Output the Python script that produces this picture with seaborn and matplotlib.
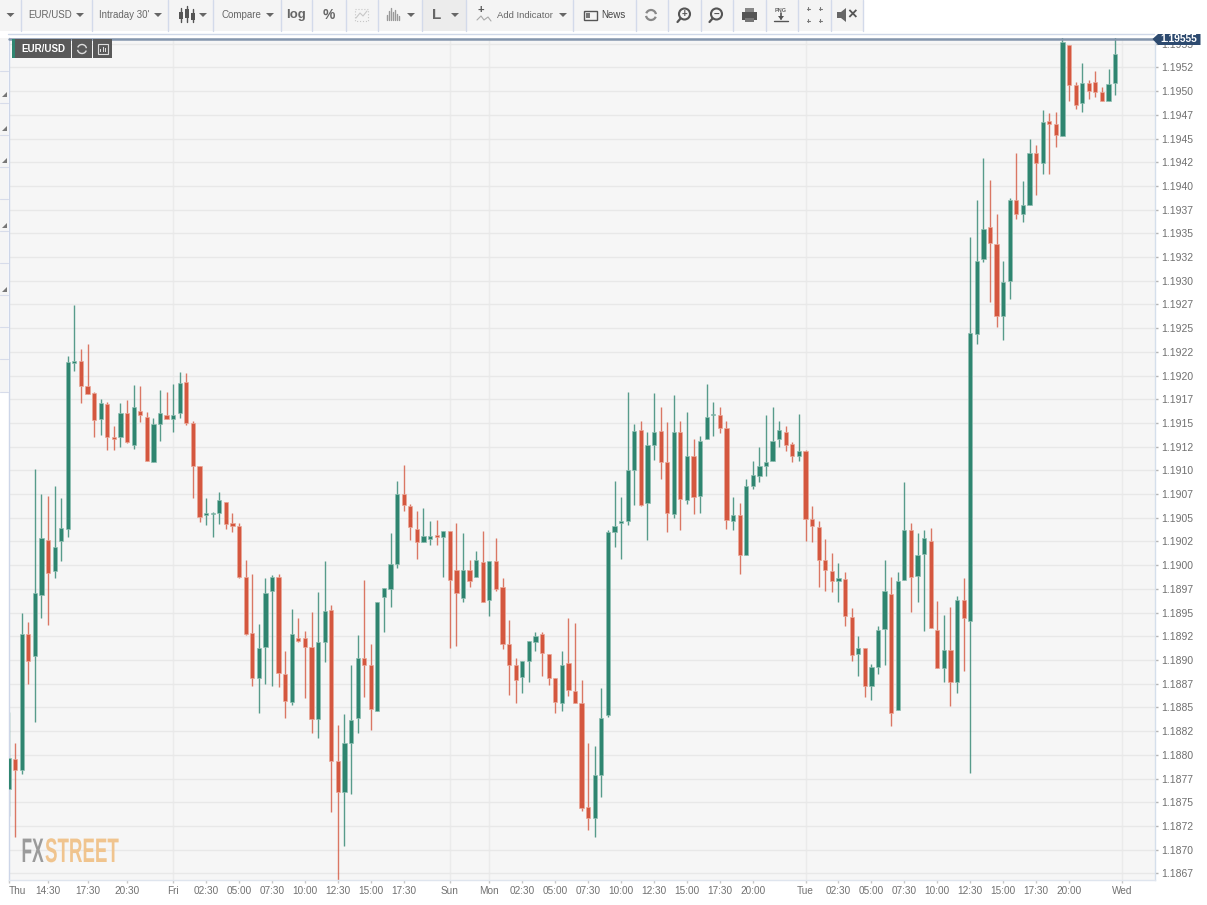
import numpy as np
import pandas as pd
import matplotlib
matplotlib.use("Agg")
import matplotlib.pyplot as plt
import matplotlib.patheffects as pe
from matplotlib.patches import Rectangle, Polygon, Circle, Arc
from matplotlib.transforms import Affine2D
import seaborn as sns

# ---- chart values, in 1e-5 of a EUR/USD price unit ----
opens = [118764,118796,118784,118927,118904,118969,119027,118994,119025,119038,
119213,119215,119189,119182,119154,119170,119135,119135,119160,119127,
119163,119156,119109,119149,119158,119154,119160,119193,119150,119105,
119053,119054,119055,119067,119044,119041,118988,118928,118881,118914,
118973,118988,118885,118856,118923,118923,118914,118838,118919,118953,
118794,118761,118813,118839,118902,118895,118846,118966,118975,119001,
119075,119062,119038,119024,119028,119032,119030,119036,118995,118965,
118995,118988,119003,118963,119004,118977,118917,118895,118882,118899,
118919,118927,118906,118881,118855,118897,118867,118855,118745,118733,
118779,118842,119035,119044,119047,119100,119143,119066,119127,119142,
119109,119054,119140,119069,119115,119073,119133,119158,119158,119145,
119047,119053,119011,119083,119094,119105,119110,119133,119141,119128,
119115,119120,119049,119040,119005,118994,118983,118985,118945,118906,
118913,118873,118893,118933,118970,118847,118984,119037,118989,119012,
119025,118932,118892,118911,118877,118963,118941,119244,119323,119357,
119339,119263,119300,119385,119370,119380,119435,119424,119468,119465,
119453,119549,119506,119487,119509,119510,119499,119490,119509]
closes = [118797,118784,118927,118899,118971,119029,118992,119019,119039,119214,
119215,119189,119181,119153,119171,119135,119133,119160,119130,119167,
119158,119110,119149,119160,119154,119158,119192,119150,119105,119051,
119055,119055,119069,119043,119041,118988,118927,118881,118913,118971,
118988,118886,118857,118927,118920,118914,118838,118919,118952,118794,
118761,118812,118837,118902,118895,118848,118961,118976,119001,119075,
119064,119040,119024,119031,119031,119030,119036,118984,118971,118995,
118983,119005,118961,119004,118975,118917,118895,118879,118899,118920,
118925,118907,118881,118856,118895,118868,118855,118744,118733,118779,
118839,119035,119041,119047,119100,119142,119063,119127,119141,119109,
119055,119140,119070,119115,119072,119131,119156,119159,119145,119048,
119053,119011,119083,119095,119105,119109,119131,119143,119127,119115,
119120,119049,119041,119006,118995,118983,118986,118946,118905,118913,
118873,118893,118932,118973,118844,118983,119037,118988,119011,119029,
118934,118892,118911,118877,118963,118944,119245,119321,119355,119340,
119263,119299,119385,119370,119380,119435,119424,119467,119465,119454,
119552,119506,119485,119509,119500,119499,119490,119507,119539]
highs = [118845,118812,118950,118940,119101,119075,119073,119083,119071,119221,
119274,119228,119233,119183,119175,119172,119147,119171,119174,119190,
119189,119162,119155,119185,119183,119191,119204,119203,119152,119105,
119071,119056,119077,119067,119055,119045,119005,118991,118938,118987,
118990,118991,118909,118954,118944,118931,118951,118972,119004,118958,
118831,118843,118895,118926,118984,118917,118961,118976,119034,119089,
119106,119065,119057,119060,119047,119048,119036,119036,119044,119034,
119006,119015,119036,119004,119029,118987,118942,118902,118899,118920,
118930,118930,118906,118881,118909,118944,118939,118879,118812,118809,
118871,119037,119089,119072,119183,119149,119152,119140,119182,119167,
119151,119180,119152,119162,119133,119136,119191,119172,119167,119152,
119072,119066,119091,119110,119125,119158,119167,119152,119147,119130,
119159,119122,119062,119047,119028,119013,119002,118993,118955,118925,
118913,118896,118936,119005,118988,118993,119088,119044,119034,119037,
119039,118962,118947,118956,118968,118986,119346,119385,119429,119406,
119370,119321,119387,119435,119405,119449,119443,119480,119477,119478,
119557,119549,119510,119530,119512,119521,119504,119523,119558]
lows = [118735,118713,118780,118875,118835,118944,118937,118987,119004,119030,
119205,119171,119181,119135,119137,119121,119121,119125,119129,119123,
119151,119110,119109,119131,119154,119141,119155,119148,119071,119046,
119042,119030,119043,119038,119035,118986,118926,118873,118844,118875,
118873,118872,118839,118853,118919,118860,118823,118818,118898,118740,
118668,118704,118759,118823,118861,118826,118846,118930,118956,118997,
119057,119027,119007,119024,119021,119021,118988,118913,118915,118961,
118977,118988,118961,118946,118973,118912,118863,118855,118865,118877,
118909,118883,118874,118844,118846,118862,118855,118741,118721,118713,
118756,118840,119019,119007,119042,119063,119062,119027,119111,119091,
119035,119050,119037,119065,119054,119055,119133,119136,119139,119038,
119037,118991,119011,119080,119088,119094,119110,119125,119120,119109,
119110,119025,119024,118977,118973,118972,118961,118936,118899,118883,
118861,118858,118885,118895,118830,118847,118984,118951,118961,118931,
118934,118892,118877,118851,118865,118888,118781,119233,119320,119278,
119251,119238,119281,119365,119362,119380,119390,119413,119413,119441,
119453,119490,119481,119478,119492,119494,119490,119490,119496]

time_ticks = [0,6,12,18,25,30,35,40,45,50,55,60,67,73,78,83,88,93,98,103,108,113,121,126,131,136,141,146,151,156,161,169]
time_labels = ["Thu","14:30","17:30","20:30","Fri","02:30","05:00","07:30","10:00","12:30","15:00","17:30",
               "Sun","Mon","02:30","05:00","07:30","10:00","12:30","15:00","17:30","20:00",
               "Tue","02:30","05:00","07:30","10:00","12:30","15:00","17:30","20:00","Wed"]
day_ticks = [25,67,73,121,169]
last_price = 1.19555
GREEN, RED = "#2f8570", "#d4573f"
GREEN_EDGE, RED_EDGE = "#8fbfb2", "#eba898"

sns.set_theme(style="white", rc={"font.family": ["Liberation Sans", "DejaVu Sans"]})
W, H = 1207, 905
fig = plt.figure(figsize=(W/100, H/100), dpi=100, facecolor="white")
L, R, T, B = 8.5, 1154.5, 38, 880
ax = fig.add_axes([L/W, 1-B/H, (R-L)/W, (B-T)/H], facecolor="#f6f6f6")

df = pd.DataFrame({"i": np.arange(len(opens)), "o": opens, "c": closes, "h": highs, "l": lows})
df[["o", "c", "h", "l"]] = df[["o", "c", "h", "l"]] / 1e5
df["bottom"] = df[["o", "c"]].min(axis=1)
df["height"] = (df["o"] - df["c"]).abs()
df["up"] = df["c"] >= df["o"]

yticks = np.arange(1.18675, 1.19551, 0.00025)
ax.vlines(day_ticks, 0, 1, transform=ax.get_xaxis_transform(), color="#ebebeb", lw=1, zorder=1)
ax.hlines(yticks, 0, 1, transform=ax.get_yaxis_transform(), color="#e8e8e8", lw=1, zorder=1)

for flag, col, edge in [(True, GREEN, GREEN_EDGE), (False, RED, RED_EDGE)]:
    sub = df[df["up"] == flag]
    ax.vlines(sub["i"], sub["l"], sub["h"], color=col, lw=1.0, alpha=0.8, zorder=2)
    sns.barplot(data=sub, x="i", y="height", bottom=sub["bottom"].to_numpy(), native_scale=True,
                errorbar=None, width=0.64, color=col, saturation=1, linewidth=0.5,
                edgecolor=edge, ax=ax, zorder=3)

x_left = 0.076
ax.set_xlim(x_left, x_left + (R - L) / 6.59)
ax.set_ylim(1.18668, 1.19556)
ax.set_xlabel(""); ax.set_ylabel("")
ax.yaxis.tick_right()
ax.set_yticks(yticks)
ax.set_yticklabels([f"{int(v*1e4)/1e4:.4f}" for v in yticks + 1e-7])
ax.set_xticks(time_ticks)
ax.set_xticklabels(time_labels)
ax.tick_params(axis="y", length=2.5, width=1, color="#b4b4b4", labelcolor="#707070", labelsize=7.5, pad=2.6, right=True)
ax.tick_params(axis="x", length=2.2, width=1, color="#c8c8c8", labelcolor="#707070", labelsize=7.2, pad=2.2, bottom=True)
first_label = ax.get_xticklabels()[0]
first_label.set_ha("left")
for s in ax.spines.values():
    s.set_visible(False)
ax.spines["right"].set_visible(True); ax.spines["right"].set_color("#d5dfeb"); ax.spines["right"].set_linewidth(1)
ax.spines["left"].set_visible(True); ax.spines["left"].set_color("#cdd6e8"); ax.spines["left"].set_linewidth(1)
ax.spines["bottom"].set_visible(True); ax.spines["bottom"].set_color("#dfe5ee"); ax.spines["bottom"].set_linewidth(1)
ax.axhline(last_price, color="#8496ad", lw=1.8, zorder=4, clip_on=False)

# ---- page furniture, drawn in pixel space ----
ui = fig.add_axes([0, 0, 1, 1], facecolor="none", zorder=5)
ui.set_xlim(0, W); ui.set_ylim(H, 0); ui.axis("off")
TXT = "#666666"

def rect(x0, y0, x1, y1, c, **k):
    ui.add_patch(Rectangle((x0, y0), x1-x0, y1-y0, facecolor=c, edgecolor="none", **k))
def arrow(x, y=15, c="#666666"):
    ui.add_patch(Polygon([(x-4, y-2), (x+4, y-2), (x, y+2)], facecolor=c, edgecolor="none"))
def refresh(x, y, r, c, lw):
    ui.add_patch(Arc((x, y), 2*r, 2*r, theta1=20, theta2=170, edgecolor=c, lw=lw))
    ui.add_patch(Arc((x, y), 2*r, 2*r, theta1=200, theta2=350, edgecolor=c, lw=lw))

rect(0, 0, 862.5, 31, "#f4f4f4")
rect(421.5, 0, 466, 31, "#ececec")
ui.plot([8, 1154], [34, 34], color="#cfd8e8", lw=1)
for x in [20.5, 91.5, 168, 213, 281, 312, 345.5, 378, 421.5, 466, 573, 635.5, 667.5, 700.5, 733, 766, 797.5, 830.5, 862.5]:
    ui.plot([x, x], [0, 31], color="#d3daea", lw=1)
for x in [10.5, 80, 158, 203, 270, 411, 455, 563]:
    arrow(x)
ui.text(28, 15, "EUR/USD", fontsize=7, color=TXT, va="center")
ui.text(99, 15, "Intraday 30'", fontsize=7, color=TXT, va="center")
ui.text(221, 15, "Compare", fontsize=7, color=TXT, va="center")
ui.text(296, 15, "log", fontsize=9.5, color=TXT, va="center", ha="center", fontweight="bold")
ui.text(329, 15, "%", fontsize=10, color=TXT, va="center", ha="center", fontweight="bold")
ui.text(437, 15, "L", fontsize=11, color=TXT, va="center", ha="center", fontweight="bold")
ui.text(497, 15, "Add Indicator", fontsize=6.8, color=TXT, va="center")
ui.text(601, 15.5, "News", fontsize=7, color="#444444", va="center")
ui.text(781, 10, "PNG", fontsize=4, color=TXT, va="center", ha="center", fontweight="bold")
# candle icon
for x, a, b, c, d in [(181, 8, 22, 12, 19), (187, 6, 22, 9, 18), (193, 9, 22, 13, 20)]:
    ui.plot([x, x], [a, b], color="#555555", lw=1)
    rect(x-2, c, x+2, d, "#555555")
# line-chart icon
ui.add_patch(Rectangle((355, 9), 13, 12, facecolor="none", edgecolor="#c8c8c8", lw=0.8, linestyle=":"))
ui.plot([356, 360, 363, 367], [18, 13, 16, 11], color="#c8c8c8", lw=0.8)
# bars icon
for k, h in enumerate([5, 9, 12, 8, 10, 6, 4]):
    ui.plot([387+k*2, 387+k*2], [20, 20-h], color="#999999", lw=1)
# indicator icon
ui.text(481, 10, "+", fontsize=8, color="#555555", va="center", ha="center", fontweight="bold")
ui.plot([477, 481, 484, 488, 491], [20, 16, 20, 17, 21], color="#aaaaaa", lw=0.8)
# news icon
ui.add_patch(Rectangle((584, 11), 13, 9, facecolor="none", edgecolor="#555555", lw=1))
rect(586, 13, 590, 18, "#777777")
# refresh
refresh(651, 15, 5, "#888888", 1.6)
# zoom in/out
for x, s in [(684.5, "+"), (716.5, "\u2212")]:
    ui.add_patch(Circle((x, 14), 5.5, facecolor="none", edgecolor="#555555", lw=1.5))
    ui.plot([x-4, x-7], [18.5, 22], color="#555555", lw=1.6)
    ui.text(x, 14, s, fontsize=7, color="#555555", va="center", ha="center", fontweight="bold")
# print
rect(742, 12, 757, 20, "#555555"); rect(745, 8, 754, 12, "#888888"); rect(745, 18, 754, 22, "#777777")
# png arrow
ui.plot([781, 781], [13, 19], color="#555555", lw=1.2)
ui.add_patch(Polygon([(778, 16), (784, 16), (781, 20)], facecolor="#555555", edgecolor="none"))
ui.plot([774, 788], [21, 21], color="#555555", lw=1)
# fullscreen
for x, y in [(808, 9), (820, 9), (808, 21), (820, 21)]:
    ui.plot([x-1.5, x+1.5], [y, y], color="#777777", lw=0.8)
    ui.plot([x, x], [y-1.5, y+1.5], color="#777777", lw=0.8)
# mute
ui.add_patch(Polygon([(837, 12), (841, 12), (846, 8), (846, 22), (841, 18), (837, 18)], facecolor="#666666", edgecolor="none"))
ui.text(852, 15, "\u00d7", fontsize=12, color="#555555", va="center", ha="center", fontweight="bold")

# series tag
rect(12, 39, 15, 58, "#2f8570")
rect(15, 39, 71, 58, "#595959")
rect(72, 39, 92, 58, "#595959")
rect(93, 39, 112, 58, "#595959")
ui.text(43, 48.7, "EUR/USD", fontsize=7, color="white", va="center", ha="center", fontweight="bold")
refresh(82, 49, 4.5, "#dddddd", 1)
ui.add_patch(Rectangle((98, 44), 10, 10, facecolor="none", edgecolor="#dddddd", lw=0.8))
rect(100, 49, 101, 52, "#dddddd"); rect(103, 47, 104, 52, "#dddddd"); rect(105, 48, 106, 52, "#dddddd")

# last price flag
ui.add_patch(Polygon([(1152.5, 39), (1158, 34), (1200.5, 34), (1200.5, 45), (1158, 45)], facecolor="#2d4a6f", edgecolor="none"))
ui.text(1179, 39.5, "1.19555", fontsize=7.4, color="white", va="center", ha="center", fontweight="bold")

# left side rail
rect(0, 38, 8, 392, "#f5f5f5")
for y in [71, 103, 135, 167, 199, 231, 263, 295, 327, 359, 392]:
    ui.plot([0, 8], [y, y], color="#d7dcea", lw=0.8)
for y in [94, 128, 160, 225, 289]:
    ui.add_patch(Polygon([(1.5, y+3), (7, y+3), (7, y-2)], facecolor="#777777", edgecolor="none"))

class Squeeze(pe.AbstractPathEffect):
    """Narrow a text run horizontally about x0 (display pixels)."""
    def __init__(self, x0, sx):
        super().__init__()
        self.x0, self.sx = x0, sx
    def draw_path(self, renderer, gc, tpath, affine, rgbFace=None):
        tr = affine + Affine2D().translate(-self.x0, 0).scale(self.sx, 1).translate(self.x0, 0)
        renderer.draw_path(gc, tpath, tr, rgbFace)

ui.text(21.5, 862, "FX", fontsize=24.5, color="#9b9b9b", va="baseline", ha="left", fontweight="bold",
        path_effects=[Squeeze(21.5, 0.51)])
ui.text(45, 862, "STREET", fontsize=24.5, color="#f0c48e", va="baseline", ha="left", fontweight="bold",
        path_effects=[Squeeze(45, 0.55)])

fig.savefig("out.png", dpi=100, facecolor="white")
